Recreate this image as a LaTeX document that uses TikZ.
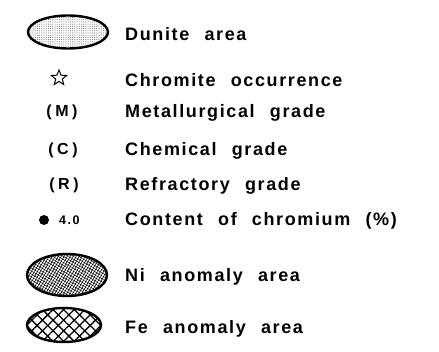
\documentclass[tikz,border=0pt]{standalone}
\usepackage{fontspec}
\setmainfont{Liberation Sans}[LetterSpace=9,WordSpace=2.3]
\usetikzlibrary{patterns.meta,shapes.geometric}
\begin{document}
\begin{tikzpicture}[x=1pt,y=-1pt,
  lbl/.style={anchor=west,font=\bfseries\fontsize{18}{21}\selectfont,inner sep=0pt},
  sym/.style={font=\bfseries\fontsize{16}{19}\selectfont\addfontfeatures{LetterSpace=22},inner sep=0pt},
  oval/.style={line width=2.4pt}]
\useasboundingbox (0,0) rectangle (439,352);
% Dunite
\path[pattern={Dots[distance=2.2pt,radius=0.5pt]},pattern color=black!65] (68,32) ellipse [x radius=40,y radius=16.5];
\draw[oval] (68,32) ellipse [x radius=40,y radius=16.5];
\node[lbl] (t1) at (125,34) {Dunite area};
% star
\node[star,star points=5,star point ratio=2.3,draw,line width=1pt,minimum size=16pt,inner sep=0pt] (s2) at (59,78) {};
\node[lbl] (t2) at (125,80) {Chromite occurrence};
\node[sym] (s3) at (62,112) {(M)};
\node[sym] (s4) at (63,150) {(C)};
\node[sym] (s5) at (64,185) {(R)};
\node[lbl] (t3) at (125,113) {Metallurgical grade};
\node[lbl] (t4) at (125,151) {Chemical grade};
\node[lbl] (t5) at (125,186) {Refractory grade};
\node[circle,fill=black,minimum size=10pt,inner sep=0pt] (s6) at (44,220) {};
\node[anchor=west,font=\bfseries\fontsize{12.5}{14}\selectfont\addfontfeatures{LetterSpace=12},inner sep=0pt] (s6b) at (59,220) {4.0};
\node[lbl] (t6) at (125,221) {Content of chromium (\%)};
% Ni
\path[pattern={Lines[angle=60,distance=2.6pt,line width=0.6pt]}] (67,275) ellipse [x radius=40,y radius=21];
\path[pattern={Lines[angle=-30,distance=2.6pt,line width=0.45pt]}] (67,275) ellipse [x radius=40,y radius=21];
\draw[oval] (67,275) ellipse [x radius=40,y radius=21];
\node[lbl] (t7) at (125,277) {Ni anomaly area};
% Fe
\path[pattern={Lines[angle=45,distance=7.5pt,line width=1.3pt]}] (64,325) ellipse [x radius=37,y radius=17];
\path[pattern={Lines[angle=-45,distance=7.5pt,line width=1.3pt]}] (64,325) ellipse [x radius=37,y radius=17];
\draw[oval] (64,325) ellipse [x radius=37,y radius=17];
\node[lbl] (t8) at (125,329) {Fe anomaly area};
\end{tikzpicture}
\end{document}
